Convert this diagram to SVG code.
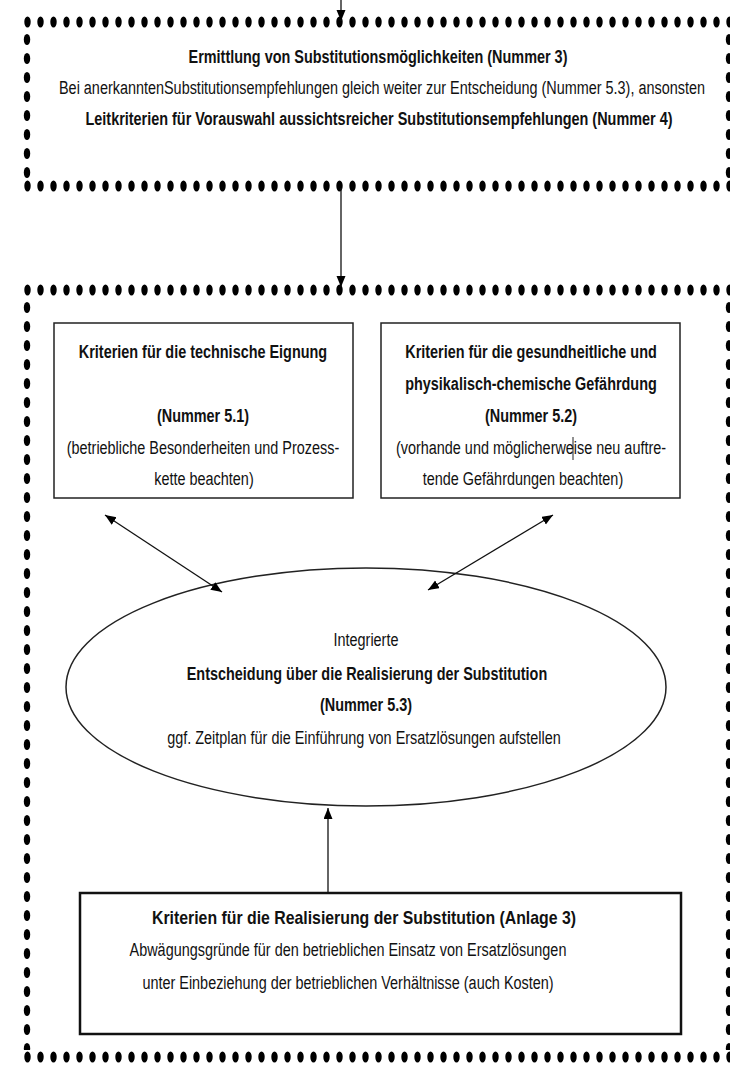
<svg xmlns="http://www.w3.org/2000/svg" width="730" height="1067" viewBox="0 0 730 1067">
<style>
text{font-family:"Liberation Sans",Arial,sans-serif;font-size:17.6px;fill:#111;text-anchor:middle}
.b{font-weight:bold}
.box{fill:#fff;stroke:#222;stroke-width:1.5}
.box3{fill:#fff;stroke:#111;stroke-width:2.5}
.con{stroke:#111;stroke-width:1.3;fill:none}
</style>
<defs>
<pattern id="hd" patternUnits="userSpaceOnUse" width="13" height="12"><ellipse cx="6.5" cy="6" rx="3.2" ry="5.5" fill="#000"/></pattern>
<pattern id="vd" patternUnits="userSpaceOnUse" width="8" height="19"><ellipse cx="4" cy="9.5" rx="3.2" ry="5.5" fill="#000"/></pattern>
<marker id="ah" markerUnits="userSpaceOnUse" markerWidth="13" markerHeight="10" refX="11" refY="4.5" orient="auto-start-reverse"><path d="M0,0 L11,4.5 L0,9 Z" fill="#000"/></marker>
</defs>
<rect width="730" height="1067" fill="#fff"/>

<g id="top-box">
<rect transform="translate(21,16)" width="712" height="12" fill="url(#hd)"/>
<rect transform="translate(21,180)" width="712" height="12" fill="url(#hd)"/>
<rect transform="translate(23,30)" width="8" height="152" fill="url(#vd)"/>
<rect transform="translate(725,30)" width="8" height="152" fill="url(#vd)"/>
<g transform="scale(0.82,1)">
<text x="460.98" y="63" class="b">Ermittlung von Substitutionsmöglichkeiten (Nummer 3)</text>
<text x="465.85" y="94">Bei anerkanntenSubstitutionsempfehlungen gleich weiter zur Entscheidung (Nummer 5.3), ansonsten</text>
<text x="462.2" y="125" class="b">Leitkriterien für Vorauswahl aussichtsreicher Substitutionsempfehlungen (Nummer 4)</text>
</g>
</g>

<g id="outer-box">
<rect transform="translate(21,284)" width="712" height="12" fill="url(#hd)"/>
<rect transform="translate(21,1051)" width="712" height="12" fill="url(#hd)"/>
<rect transform="translate(23,298)" width="8" height="752" fill="url(#vd)"/>
<rect transform="translate(725,298)" width="8" height="752" fill="url(#vd)"/>
</g>

<g id="box-technisch">
<rect x="54" y="323" width="299" height="175" class="box"/>
<g transform="scale(0.82,1)">
<text x="247.56" y="358" class="b">Kriterien für die technische Eignung</text>
<text x="247.56" y="422" class="b">(Nummer 5.1)</text>
<text x="247.56" y="454">(betriebliche Besonderheiten und Prozess-</text>
<text x="248.78" y="485">kette beachten)</text>
</g>
</g>

<g id="box-gefaehrdung">
<rect x="381" y="323" width="299" height="175" class="box"/>
<g transform="scale(0.82,1)">
<text x="647.56" y="358" class="b">Kriterien für die gesundheitliche und</text>
<text x="647.56" y="390" class="b">physikalisch-chemische Gefährdung</text>
<text x="647.56" y="422" class="b">(Nummer 5.2)</text>
<text x="647.56" y="454">(vorhande und möglicherweise neu auftre-</text>
<text x="637.8" y="485">tende Gefährdungen beachten)</text>
</g>
<line x1="573" y1="437" x2="573" y2="460" stroke="#222" stroke-width="1"/>
</g>

<g id="entscheidung">
<ellipse cx="366" cy="687" rx="300" ry="119" class="box"/>
<g transform="scale(0.82,1)">
<text x="446.34" y="646">Integrierte</text>
<text x="447.56" y="680" class="b">Entscheidung über die Realisierung der Substitution</text>
<text x="446.34" y="711" class="b">(Nummer 5.3)</text>
<text x="443.9" y="744">ggf. Zeitplan für die Einführung von Ersatzlösungen aufstellen</text>
</g>
</g>

<g id="box-realisierung">
<rect x="80" y="893" width="601" height="141" class="box3"/>
<g transform="scale(0.9,1)">
<text x="404.44" y="924" class="b">Kriterien für die Realisierung der Substitution (Anlage 3)</text>
</g>
<g transform="scale(0.82,1)">
<text x="424.39" y="956">Abwägungsgründe für den betrieblichen Einsatz von Ersatzlösungen</text>
<text x="424.39" y="989">unter Einbeziehung der betrieblichen Verhältnisse (auch Kosten)</text>
</g>
</g>

<g id="connectors">
<line x1="341" y1="0" x2="341" y2="21" class="con" marker-end="url(#ah)"/>
<line x1="341" y1="188" x2="341" y2="287" class="con" marker-end="url(#ah)"/>
<line x1="105" y1="515" x2="222" y2="592" class="con" marker-start="url(#ah)" marker-end="url(#ah)"/>
<line x1="553" y1="515" x2="428" y2="590" class="con" marker-start="url(#ah)" marker-end="url(#ah)"/>
<line x1="328" y1="893" x2="328" y2="808" class="con" marker-end="url(#ah)"/>
</g>
</svg>
